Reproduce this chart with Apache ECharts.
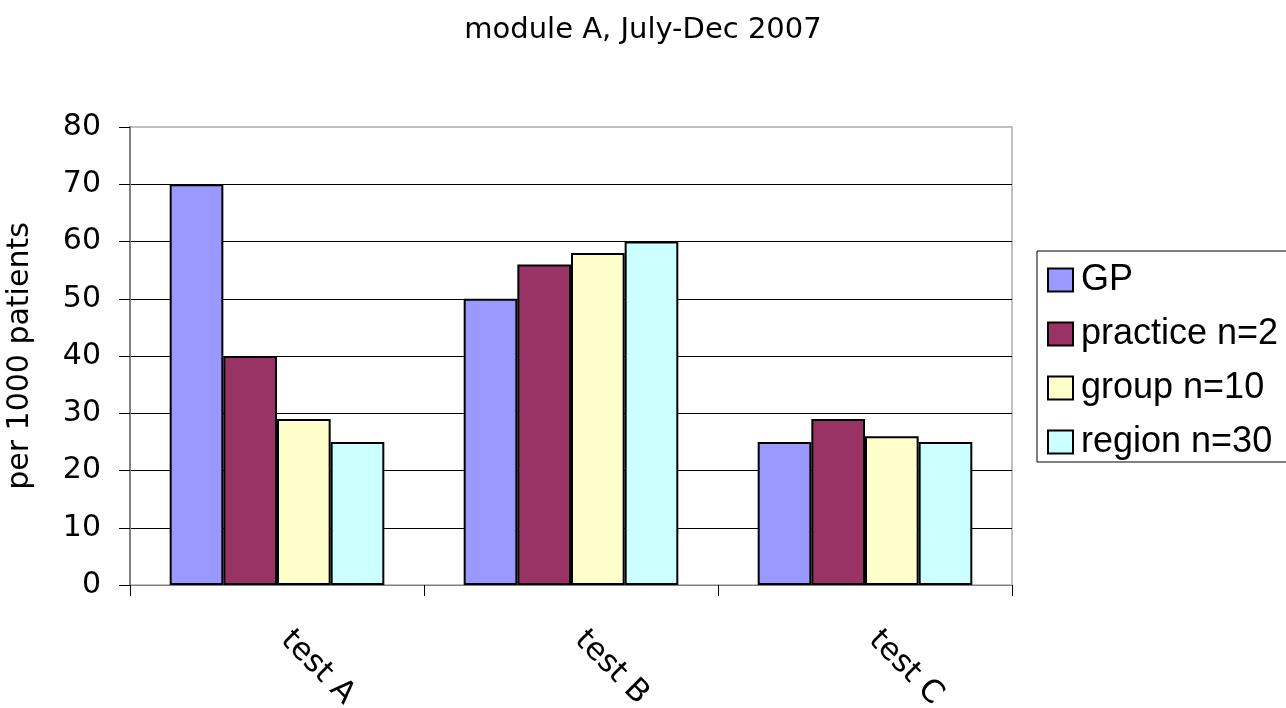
<!DOCTYPE html>
<html>
<head>
<meta charset="utf-8">
<script src="https://cdn.jsdelivr.net/npm/echarts@6/dist/echarts.min.js"></script>
<style>html,body{margin:0;padding:0;background:#fff;}#c{width:1286px;height:708px;}</style>
</head>
<body>
<div id="c"></div>
<script>
const categories = ['test A', 'test B', 'test C'];
const seriesNames = ['GP', 'practice n=2', 'group n=10', 'region n=30'];
const gpValues = [70, 50, 25];
const practiceValues = [40, 56, 29];
const groupValues = [29, 58, 26];
const regionValues = [25, 60, 25];
const yTicks = [0, 10, 20, 30, 40, 50, 60, 70, 80];
const colors = ['#9999ff', '#993366', '#ffffcc', '#ccffff'];

const allValues = [gpValues, practiceValues, groupValues, regionValues];
const font = 'Liberation Sans, Arial, sans-serif';
const wideFont = 'DejaVu Sans, sans-serif';

const chart = echarts.init(document.getElementById('c'));
chart.setOption({
  animation: false,
  textStyle: { fontFamily: font, color: '#000' },
  title: {
    text: 'module A, July-Dec 2007',
    left: 'center',
    top: 11,
    textStyle: { fontFamily: wideFont, fontSize: 29, fontWeight: 'normal', color: '#000' }
  },
  legend: {
    orient: 'vertical',
    left: 1037,
    top: 251,
    padding: [11, 20, 2, 10],
    icon: 'rect',
    itemWidth: 25,
    itemHeight: 23,
    itemGap: 18,
    borderColor: '#000',
    borderWidth: 1,
    textStyle: { fontFamily: font, fontSize: 36, color: '#000', padding: [0, 0, 0, 3] },
    data: seriesNames
  },
  grid: {
    left: 130, right: 274, top: 127, bottom: 123,
    outerBoundsMode: 'none',
    containLabel: false,
    show: true, borderColor: '#c0c0c0', borderWidth: 2
  },
  xAxis: {
    type: 'category',
    data: categories,
    axisLine: { lineStyle: { color: '#808080', width: 1 } },
    axisTick: { show: true, length: 11, lineStyle: { color: '#000' } },
    axisLabel: { rotate: -45, fontSize: 31, color: '#000', margin: 42, padding: [0, 0, 0, 12], fontFamily: wideFont }
  },
  yAxis: {
    type: 'value',
    min: yTicks[0],
    max: yTicks[yTicks.length - 1],
    interval: yTicks[1] - yTicks[0],
    name: 'per 1000 patients',
    nameLocation: 'middle',
    nameGap: 95,
    nameTextStyle: { fontSize: 30, color: '#000', fontFamily: wideFont },
    axisLine: { show: true, lineStyle: { color: '#808080', width: 2 } },
    axisTick: { show: true, length: 11, lineStyle: { color: '#000' } },
    axisLabel: { fontSize: 30, color: '#000', margin: 29, fontFamily: wideFont },
    splitLine: { show: true, lineStyle: { color: ['#000', '#000', '#000', '#000', '#000', '#000', '#000', '#000', '#c0c0c0'], width: 1 } }
  },
  series: seriesNames.map((name, i) => ({
    name: name,
    type: 'bar',
    data: allValues[i],
    barGap: '0%',
    barCategoryGap: '27%',
    itemStyle: { color: colors[i], borderColor: '#000', borderWidth: 2 }
  }))
});
</script>
</body>
</html>
